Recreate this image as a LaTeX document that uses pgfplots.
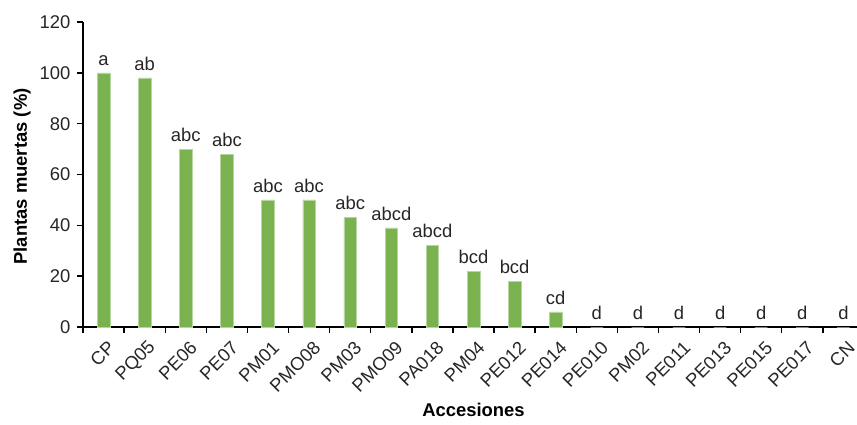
\documentclass[border=0pt]{standalone}
\usepackage{pgfplots}
\pgfplotsset{compat=1.18}
\usepackage{fontspec}
\setmainfont{Liberation Sans}
\definecolor{barverde}{RGB}{122,178,80}

\pgfplotstableread{
x y lbl
0 100 a
1 98 ab
2 70 abc
3 68 abc
4 50 abc
5 50 abc
6 43 abc
7 39 abcd
8 32 abcd
9 22 bcd
10 18 bcd
11 6 cd
12 0 d
13 0 d
14 0 d
15 0 d
16 0 d
17 0 d
18 0 d
}\muertas

\begin{document}
\begin{tikzpicture}
\begin{axis}[
    name=ax,
    scale only axis,
    width=781bp, height=305bp,
    ybar, bar width=12.5bp,
    xmin=-0.5, xmax=18.5,
    ymin=0, ymax=120,
    ytick={0,20,...,120},
    xtick={0,...,18},
    xticklabels={CP,PQ05,PE06,PE07,PM01,PMO08,PM03,PMO09,PA018,PM04,PE012,PE014,PE010,PM02,PE011,PE013,PE015,PE017,CN},
    minor xtick={-0.5,0.5,...,18.5},
    axis x line*=bottom, axis y line*=left,
    axis line style={line width=1.4pt, -},
    tick align=outside,
    major x tick style={draw=none},
    minor x tick style={black, line width=1.4pt},
    y tick style={black, line width=1.4pt},
    minor tick length=6bp, major tick length=6bp,
    /pgf/number format/assume math mode=true,
    tick label style={font=\fontsize{18.5}{18.5}\selectfont, text=black!85},
    y tick label style={xshift=-3bp},
    x tick label style={rotate=45, anchor=east, inner sep=1bp, yshift=-14bp, xshift=-1.5bp},
    nodes near coords, point meta=explicit symbolic,
    every node near coord/.append style={font=\fontsize{18.5}{18.5}\selectfont, text=black!85, yshift=4bp},
]
\addplot[fill=barverde, draw=barverde!55!white, line width=0.5pt] table[x=x, y=y, meta=lbl]{\muertas};
\end{axis}
\node[rotate=90, font=\fontsize{18.5}{18.5}\selectfont\bfseries] at ([xshift=-61bp, yshift=-2bp]ax.west) {Plantas muertas (\%)};
\node[font=\fontsize{18.5}{18.5}\selectfont\bfseries] at ([yshift=-83bp]ax.south) {Accesiones};
\pgfresetboundingbox
\path ([xshift=-83bp, yshift=-98bp]ax.south west) rectangle ([xshift=774bp, yshift=22bp]ax.north west);
\end{tikzpicture}
\end{document}
